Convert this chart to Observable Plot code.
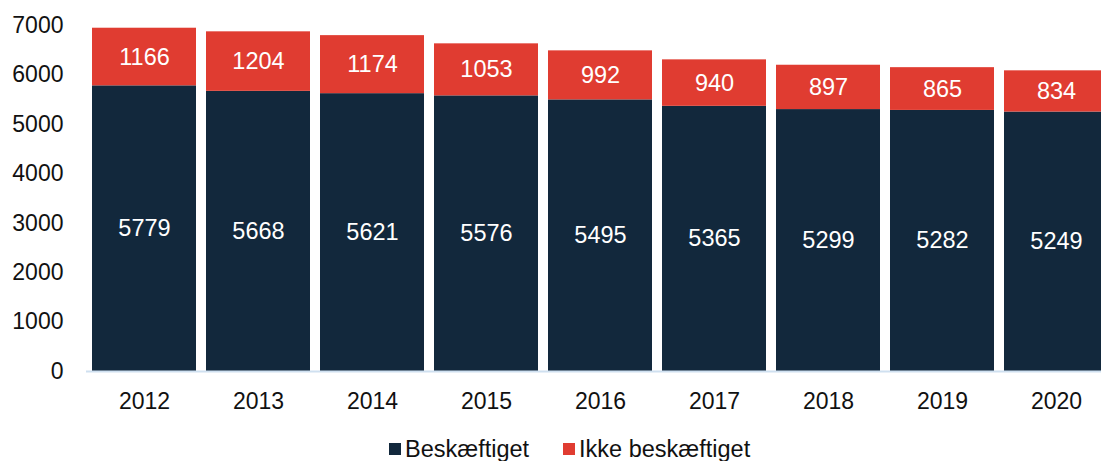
<!DOCTYPE html>
<html>
<head>
<meta charset="utf-8">
<script src="https://cdn.jsdelivr.net/npm/d3@7"></script>
<script src="https://cdn.jsdelivr.net/npm/@observablehq/plot@0.6"></script>
<style>
  html, body { margin: 0; padding: 0; background: #fff; overflow: hidden; }
  body { font-family: "Liberation Sans", Arial, sans-serif; }
  #legend { display: flex; align-items: center; margin-top: 17px; padding-left: 389px; font-size: 23.5px; line-height: 24px; color: #111; white-space: nowrap; }
  .sw { display: inline-block; width: 12px; height: 12px; margin-right: 4px; }
  .item { display: inline-flex; align-items: center; margin-right: 34px; }
</style>
</head>
<body>
<div id="chart"></div>
<div id="legend"></div>
<script>
const years = ["2012","2013","2014","2015","2016","2017","2018","2019","2020"];
const employed = [5779, 5668, 5621, 5576, 5495, 5365, 5299, 5282, 5249];
const notEmployed = [1166, 1204, 1174, 1053, 992, 940, 897, 865, 834];
const seriesNames = ["Beskæftiget", "Ikke beskæftiget"];
const seriesColors = ["#12283c", "#e03c31"];
const yTicks = [0, 1000, 2000, 3000, 4000, 5000, 6000, 7000];

const data = [];
years.forEach((yr, i) => {
  data.push({year: yr, series: seriesNames[0], value: employed[i]});
  data.push({year: yr, series: seriesNames[1], value: notEmployed[i]});
});

const chart = Plot.plot({
  width: 1101,
  height: 420,
  marginTop: 25,
  marginBottom: 49,
  marginLeft: 86,
  marginRight: 0,
  style: {fontFamily: "'Liberation Sans', Arial, sans-serif", fontSize: "23px", color: "#111", background: "#fff"},
  x: {domain: years, range: [78, 1122.5], padding: 0.084, label: null},
  y: {domain: [0, 7000], label: null},
  color: {domain: seriesNames, range: seriesColors},
  marks: [
    Plot.barY(data, Plot.stackY({x: "year", y: "value", fill: "series", order: seriesNames})),
    Plot.text(data, Plot.stackY({x: "year", y: "value", z: "series", order: seriesNames, text: d => String(d.value), fill: "white", fontSize: 23.5})),
    Plot.ruleY([0], {stroke: "#cfe0f0", strokeWidth: 2}),
    Plot.axisY({ticks: yTicks, tickSize: 0, tickPadding: 23, label: null, fontSize: 23, tickFormat: d => String(d)}),
    Plot.axisX({tickSize: 0, tickPadding: 21, label: null, fontSize: 23})
  ]
});
document.getElementById("chart").appendChild(chart);

const legend = document.getElementById("legend");
seriesNames.forEach((name, i) => {
  const item = document.createElement("span");
  item.className = "item";
  const sw = document.createElement("span");
  sw.className = "sw";
  sw.style.background = seriesColors[i];
  item.appendChild(sw);
  item.appendChild(document.createTextNode(name));
  legend.appendChild(item);
});
</script>
</body>
</html>
